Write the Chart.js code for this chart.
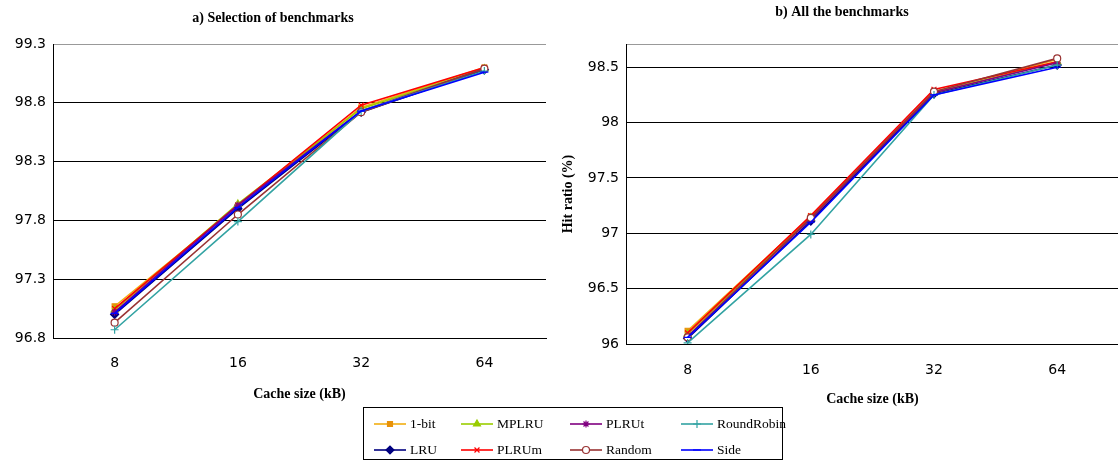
<!DOCTYPE html>
<html>
<head>
<meta charset="utf-8">
<script src="https://cdn.jsdelivr.net/npm/chart.js@4.4.0/dist/chart.umd.min.js"></script>
<style>
    html, body { margin: 0; padding: 0; background: #fff; overflow: hidden; width: 1118px; height: 463px; }
    #chartA { position: absolute; left: 0; top: 0; }
    #chartB { position: absolute; left: 560px; top: 0; }
    #legend { position: absolute; left: 363px; top: 407px; width: 420px; height: 53px; border: 1px solid #000;
              box-sizing: border-box; font-family: "Liberation Serif", serif; font-size: 13.5px; color: #000; }
    .item { position: absolute; display: flex; align-items: center; height: 16px; white-space: nowrap; }
    .item canvas { margin-right: 4px; }
</style>
</head>
<body>
<canvas id="chartA" width="562" height="407"></canvas>
<canvas id="chartB" width="564" height="412"></canvas>
<div id="legend"></div>
<script>
// categories
const cacheSizes = ["8", "16", "32", "64"];
const seriesNames = ["1-bit", "LRU", "MPLRU", "PLRUm", "PLRUt", "Random", "RoundRobin", "Side"];

// a) Selection of benchmarks
const selOneBit = [97.07, 97.92, 98.76, 99.10];
const selLRU = [97.00, 97.90, 98.72, 99.08];
const selMPLRU = [97.04, 97.94, 98.75, 99.09];
const selPLRUm = [97.05, 97.93, 98.78, 99.10];
const selPLRUt = [97.02, 97.93, 98.73, 99.09];
const selRandom = [96.93, 97.85, 98.72, 99.09];
const selRoundRobin = [96.87, 97.79, 98.73, 99.07];
const selSide = [97.01, 97.91, 98.73, 99.06];

// b) All the benchmarks
const allOneBit = [96.12, 97.15, 98.28, 98.57];
const allLRU = [96.05, 97.11, 98.26, 98.52];
const allMPLRU = [96.09, 97.14, 98.27, 98.55];
const allPLRUm = [96.10, 97.16, 98.30, 98.55];
const allPLRUt = [96.07, 97.13, 98.27, 98.54];
const allRandom = [96.06, 97.14, 98.28, 98.58];
const allRoundRobin = [96.01, 96.99, 98.25, 98.52];
const allSide = [96.06, 97.10, 98.25, 98.50];

// y tick labels
const selTicks = [96.8, 97.3, 97.8, 98.3, 98.8, 99.3];
const allTicks = [96, 96.5, 97, 97.5, 98, 98.5];

const selSeries = [selOneBit, selLRU, selMPLRU, selPLRUm, selPLRUt, selRandom, selRoundRobin, selSide];
const allSeries = [allOneBit, allLRU, allMPLRU, allPLRUm, allPLRUt, allRandom, allRoundRobin, allSide];

// look of each series (same order as seriesNames)
const looks = [
    { line: "#F2AE12", fill: "#E8920A", border: "#E8920A", pointStyle: "rect", radius: 3.5 },
    { line: "#000080", fill: "#000080", border: "#000080", pointStyle: "rectRot", radius: 4 },
    { line: "#9ACD00", fill: "#9ACD00", border: "#9ACD00", pointStyle: "triangle", radius: 4 },
    { line: "#FF0000", fill: "#FF0000", border: "#FF0000", pointStyle: "crossRot", radius: 3.5 },
    { line: "#800080", fill: "#800080", border: "#800080", pointStyle: "star", radius: 3.5 },
    { line: "#993333", fill: "#FFFFFF", border: "#993333", pointStyle: "circle", radius: 3.5 },
    { line: "#33A3A3", fill: "#33A3A3", border: "#33A3A3", pointStyle: "cross", radius: 4 },
    { line: "#0000FF", fill: "#0000FF", border: "#0000FF", pointStyle: "line", radius: 4 }
];

const tickFont = { family: "'DejaVu Sans', sans-serif", size: 14 };
const boldSerif = { family: "'Liberation Serif', serif", size: 14, weight: "bold" };

function buildDatasets(series) {
    return series.map((values, i) => ({
        label: seriesNames[i],
        data: values,
        borderColor: looks[i].line,
        borderWidth: 1.6,
        backgroundColor: looks[i].fill,
        pointBorderColor: looks[i].border,
        pointBackgroundColor: looks[i].fill,
        pointStyle: looks[i].pointStyle,
        pointRadius: looks[i].radius,
        pointBorderWidth: 1.2,
        tension: 0,
        order: series.length - 1 - i
    }));
}

function labelFor(v, shown) {
    for (let t of shown) {
        if (Math.abs(t - v) < 1e-6) return String(t);
    }
    return "";
}

function makeChart(id, series, opts) {
    return new Chart(document.getElementById(id), {
        type: "line",
        data: { labels: cacheSizes, datasets: buildDatasets(series) },
        options: {
            responsive: false,
            animation: false,
            devicePixelRatio: 1,
            layout: { padding: { left: 0, right: opts.padRight, top: 0, bottom: 0 } },
            plugins: {
                legend: { display: false },
                tooltip: { enabled: false },
                title: {
                    display: true,
                    text: opts.title,
                    color: "#000",
                    font: boldSerif,
                    padding: { top: opts.titleTop, bottom: opts.titleBottom }
                }
            },
            scales: {
                x: {
                    offset: true,
                    afterFit: (scale) => { scale.height = opts.xHeight; },
                    grid: {
                        offset: true,
                        drawTicks: false,
                        color: (ctx) => ctx.index === cacheSizes.length ? "#999999" : "rgba(0,0,0,0)"
                    },
                    border: { color: "#000", width: 1 },
                    ticks: { color: "#000", font: tickFont, padding: opts.xTickPad, maxRotation: 0 },
                    title: {
                        display: true,
                        text: "Cache size (kB)",
                        color: "#000",
                        font: boldSerif,
                        padding: { top: 0, bottom: opts.xTitlePad }
                    }
                },
                y: {
                    min: opts.min,
                    max: opts.max,
                    afterFit: (scale) => { scale.width = opts.yWidth; },
                    ticks: {
                        stepSize: 0.5,
                        color: "#000",
                        font: tickFont,
                        padding: 7,
                        callback: (v) => labelFor(v, opts.shown)
                    },
                    grid: {
                        drawTicks: false,
                        lineWidth: 1,
                        color: (ctx) => (ctx.tick && Math.abs(ctx.tick.value - opts.max) < 1e-6) ? "#999999" : "#000000"
                    },
                    border: { color: "#000", width: 1 },
                    title: {
                        display: opts.yTitle !== "",
                        text: opts.yTitle,
                        color: "#000",
                        font: boldSerif,
                        padding: 0
                    }
                }
            }
        }
    });
}

makeChart("chartA", selSeries, {
    title: "a) Selection of benchmarks",
    min: selTicks[0], max: selTicks[selTicks.length - 1], shown: selTicks,
    titleTop: 10, titleBottom: 17.2, xHeight: 69, xTickPad: 17, xTitlePad: 4,
    yWidth: 53, padRight: 16, yTitle: ""
});

makeChart("chartB", allSeries, {
    title: "b) All the benchmarks",
    min: allTicks[0], max: 98.71, shown: allTicks,
    titleTop: 4, titleBottom: 23.2, xHeight: 68, xTickPad: 18, xTitlePad: 4,
    yWidth: 66, padRight: 0, yTitle: "Hit ratio (%)"
});

// legend, laid out like the original (row-wise, 4 columns)
const legendCols = [10, 97, 206, 317];
const legendRows = [8, 34];
const legendOrder = [0, 2, 4, 6, 1, 3, 5, 7];
const legendEl = document.getElementById("legend");
legendOrder.forEach((si, k) => {
    const item = document.createElement("div");
    item.className = "item";
    item.style.left = legendCols[k % 4] + "px";
    item.style.top = legendRows[Math.floor(k / 4)] + "px";
    const cv = document.createElement("canvas");
    cv.width = 32; cv.height = 14;
    const ctx = cv.getContext("2d");
    ctx.strokeStyle = looks[si].line;
    ctx.lineWidth = 1.6;
    ctx.beginPath(); ctx.moveTo(0, 7); ctx.lineTo(32, 7); ctx.stroke();
    ctx.fillStyle = looks[si].fill;
    ctx.strokeStyle = looks[si].border;
    ctx.lineWidth = 1.2;
    Chart.helpers.drawPoint(ctx, { pointStyle: looks[si].pointStyle, radius: looks[si].radius, borderWidth: 1.2, rotation: 0 }, 16, 7);
    item.appendChild(cv);
    const txt = document.createElement("span");
    txt.textContent = seriesNames[si];
    item.appendChild(txt);
    legendEl.appendChild(item);
});
</script>
</body>
</html>
